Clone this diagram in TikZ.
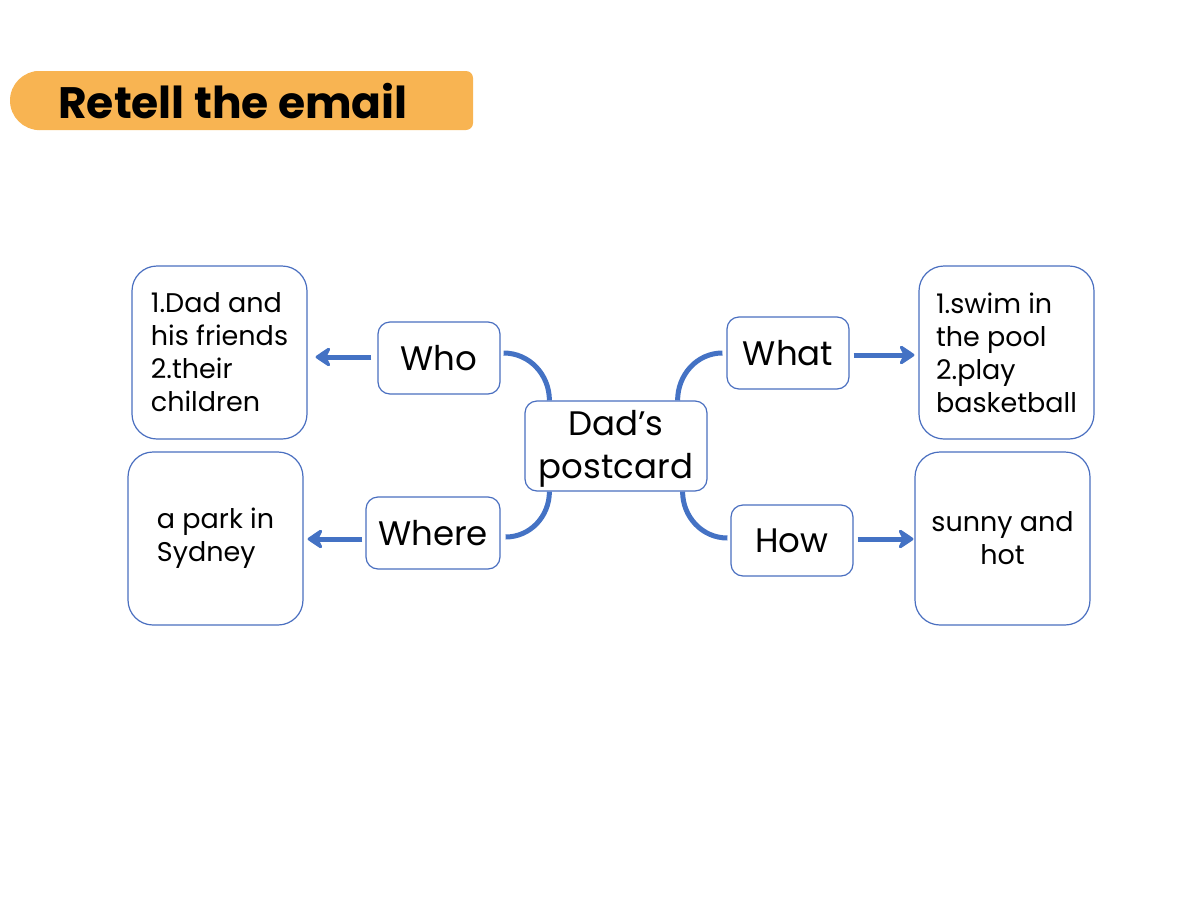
\documentclass[tikz,border=0pt]{standalone}
\usepackage{fontspec}
\setmainfont{Poppins}
\usetikzlibrary{arrows.meta}
\definecolor{lineblue}{HTML}{4472C4}
\definecolor{boxblue}{HTML}{4A6FC0}
\definecolor{titleorange}{HTML}{F8B452}
\begin{document}
\begin{tikzpicture}[x=1pt,y=-1pt,
  smallbox/.style={draw=boxblue, line width=1.2pt, rounded corners=12pt, fill=white, inner sep=0pt,
    minimum width=122pt, minimum height=72pt, font=\fontsize{34}{40}\selectfont},
  bigbox/.style={draw=boxblue, line width=1.2pt, rounded corners=25pt, fill=white, inner sep=0pt,
    minimum width=175pt, minimum height=173pt, font=\fontsize{27}{33}\selectfont},
  conn/.style={draw=lineblue, line width=5pt},
  arr/.style={draw=lineblue, line width=5pt, -{Stealth[length=18pt,width=24pt,inset=6pt,round]}},
]
\useasboundingbox (0,0) rectangle (1200,900);
% title
\fill[titleorange] (39.5,100.5) circle[radius=29.5];
\fill[titleorange, rounded corners=7pt] (30,71) rectangle (473,130);
\node[font=\fontsize{44}{48}\selectfont\bfseries, text=black] (title) at (233,101) {Retell the email};
% central
\node[smallbox, minimum width=182pt, minimum height=90pt, align=center, font=\fontsize{34}{43}\selectfont] (dad) at (616,446) {\rule{0pt}{30pt}Dad’s\\postcard};
\node[smallbox] (who) at (439,358) {Who};
\node[smallbox, minimum width=134pt] (where) at (433,533) {Where};
\node[smallbox] (what) at (788,353) {What};
\node[smallbox, minimum height=71pt] (how) at (792,540.5) {How};
% answer boxes
\node[bigbox, align=left] (lt) at (219.5,352.5) {1.Dad and\\his friends\\2.their\\children};
\node[bigbox, align=left] (lb) at (215.5,538.5) {a park in\\Sydney};
\node[bigbox, align=left] (rt) at (1006.5,352.5) {1.swim in\\the pool\\2.play\\basketball};
\node[bigbox, align=center] (rb) at (1002.5,538.5) {sunny and\\hot};
% curved connectors
\draw[conn] ([shift={(3,-5)}]who.east) to[out=0,in=90] ([xshift=25pt]dad.north west);
\draw[conn] ([xshift=25pt]dad.south west) to[out=-90,in=0] ([shift={(5,4)}]where.east);
\draw[conn] ([xshift=-4pt]what.west) to[out=180,in=90] ([xshift=-30pt]dad.north east);
\draw[conn] ([xshift=-25pt]dad.south east) to[out=-90,in=180] ([shift={(-3,-2.5)}]how.west);
% arrows
\draw[arr, shorten >=8pt] ([xshift=-6pt,yshift=1pt]who.west) -- ([yshift=1pt]who.west -| lt.east);
\draw[arr, shorten >=4pt] ([xshift=-3pt,yshift=-6pt]where.west) -- ([yshift=-6pt]where.west -| lb.east);
\draw[arr, shorten >=4pt] ([xshift=4pt,yshift=-2pt]what.east) -- ([yshift=-2pt]what.east -| rt.west);
\draw[arr, shorten >=1pt] ([xshift=4pt,yshift=1.5pt]how.east) -- ([yshift=1.5pt]how.east -| rb.west);
\end{tikzpicture}
\end{document}
